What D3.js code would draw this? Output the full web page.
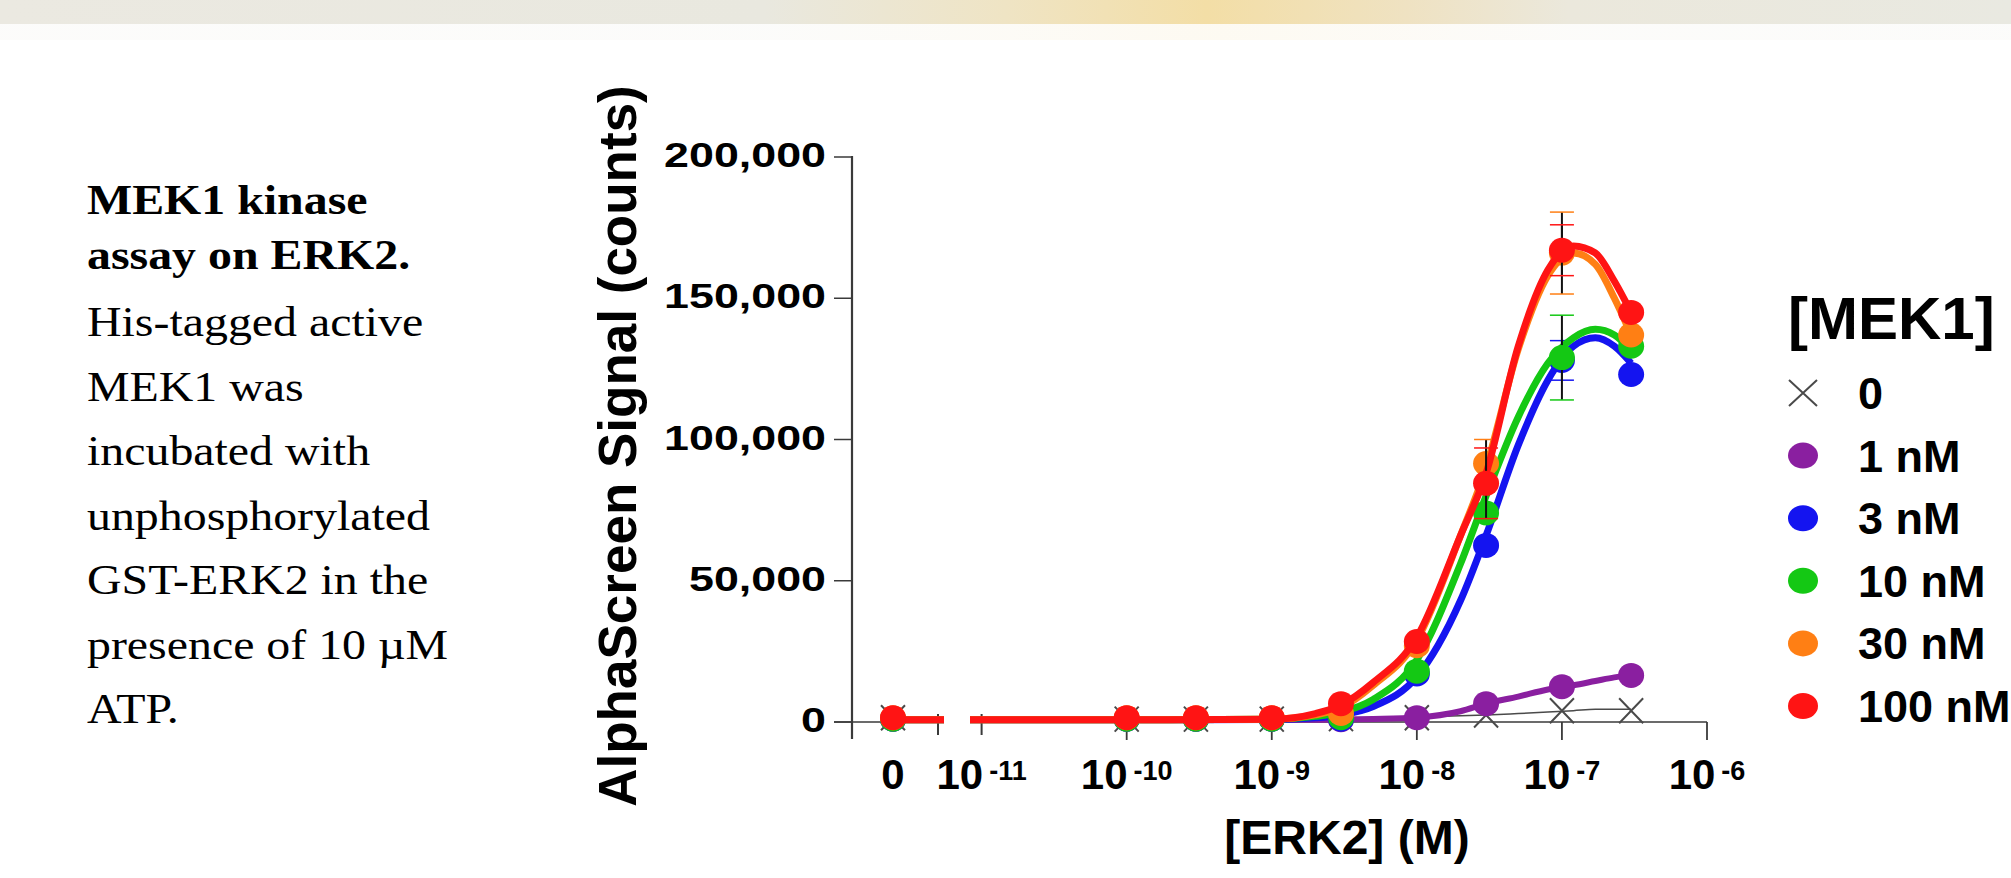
<!DOCTYPE html>
<html>
<head>
<meta charset="utf-8">
<script src="https://cdn.jsdelivr.net/npm/d3@7/dist/d3.min.js"></script>
<style>
  html, body { margin: 0; padding: 0; background: #fff; }
  svg { display: block; }
</style>
</head>
<body>
<svg id="chart" width="2011" height="878"></svg>
<script>
// -------------------------------------------------------------------------
// Data
const concentrations = [0, 1e-10, 3e-10, 1e-9, 3e-9, 1e-8, 3e-8, 1e-7, 3e-7];

const seriesNames = ['0', '1 nM', '3 nM', '10 nM', '30 nM', '100 nM'];
const seriesColors = ['#4a4a4a', '#8a1fa0', '#1414f0', '#14c814', '#ff7f14', '#ff1414'];

// mean signal per concentration
const signalMek0 = [1500, 1000, 1000, 1000, 1200, 1500, 2500, 4000, 4000];
const signalMek1 = [1000, 1000, 1000, 1000, 800, 1500, 6500, 12500, 16500];
const signalMek3 = [1000, 1000, 1000, 1000, 1000, 17000, 62500, 128000, 123000];
const signalMek10 = [1000, 1000, 1000, 1000, 1500, 18000, 74000, 129000, 133000];
const signalMek30 = [1500, 1500, 1500, 1500, 3000, 27000, 91500, 166000, 137000];
const signalMek100 = [1500, 1500, 1500, 1500, 6500, 28500, 84500, 167000, 145000];

// error bars (only the visible ones)
const errorMek3 = [0, 0, 0, 0, 0, 0, 0, 7000, 0];
const errorMek10 = [0, 0, 0, 0, 0, 0, 0, 15000, 0];
const errorMek30 = [0, 0, 0, 0, 0, 0, 8500, 14500, 0];
const errorMek100 = [0, 0, 0, 0, 0, 0, 12500, 9000, 0];

// fitted curves, sampled from the figure
const fitConc = [1e-11, 1e-10, 1e-9, 2e-9, 3e-9, 5e-9, 1e-8, 2e-8, 3e-8, 5e-8, 8e-8, 1.2e-7, 1.7e-7, 2.3e-7, 3e-7];
const fitMek0 = [1500, 1500, 1500, 1500, 1500, 1500, 1800, 2200, 2500, 3000, 3500, 4000, 4500, 4500, 4500];
const fitMek1 = [800, 800, 800, 800, 900, 1100, 1600, 3800, 6500, 9000, 11500, 13000, 14500, 15800, 16500];
const fitMek3 = [800, 800, 900, 1500, 2500, 5500, 16000, 43000, 66000, 98000, 121000, 133000, 136000, 133000, 127000];
const fitMek10 = [800, 800, 1000, 2000, 3500, 8000, 22000, 56000, 80000, 108000, 127000, 136000, 139000, 137000, 131500];
const fitMek30 = [800, 800, 1000, 2500, 5000, 13000, 29000, 66000, 90000, 132000, 158000, 166000, 162000, 150000, 137000];
const fitMek100 = [800, 800, 1000, 3000, 6000, 14000, 30000, 66000, 88000, 133000, 160000, 168500, 166000, 156000, 145000];

const yTicks = [0, 50000, 100000, 150000, 200000];
const xTickExponents = [-11, -10, -9, -8, -7, -6];

const captionBold = ['MEK1 kinase', 'assay on ERK2.'];
const captionLines = ['His-tagged active', 'MEK1 was', 'incubated with', 'unphosphorylated',
  'GST-ERK2 in the', 'presence of 10 \u00b5M', 'ATP.'];

// -------------------------------------------------------------------------
// Layout
const svg = d3.select('#chart');
const sans = '"Liberation Sans", Arial, Helvetica, sans-serif';
const serif = '"Liberation Serif", "Times New Roman", serif';

const axisY0 = 722;
const axisX0 = 852;
const zeroX = 893;          // position of the "0" concentration
const breakEnd = 940;       // end of the first x segment
const logStart = 970;       // start of the log segment

const x = d3.scaleLog().domain([Math.pow(10, -11.08), 1e-6]).range([logStart, 1707]);
const y = d3.scaleLinear().domain([0, 200000]).range([axisY0, 157]);
const xPos = c => (c === 0 ? zeroX : x(c));

const series = [
  { values: signalMek0, errors: null, fit: fitMek0 },
  { values: signalMek1, errors: null, fit: fitMek1 },
  { values: signalMek3, errors: errorMek3, fit: fitMek3 },
  { values: signalMek10, errors: errorMek10, fit: fitMek10 },
  { values: signalMek30, errors: errorMek30, fit: fitMek30 },
  { values: signalMek100, errors: errorMek100, fit: fitMek100 }
].map((s, i) => Object.assign(s, { name: seriesNames[i], color: seriesColors[i] }));

// -------------------------------------------------------------------------
// Header band
const defs = svg.append('defs');
const band = defs.append('linearGradient').attr('id', 'band');
[[0, '#ebe9e1'], [0.38, '#e9e8df'], [0.5, '#efe4c4'], [0.6, '#f3dea6'], [0.7, '#efe2c2'], [0.78, '#ebe8dc'], [1, '#e9e9e1']]
  .forEach(s => band.append('stop').attr('offset', s[0]).attr('stop-color', s[1]));
svg.append('rect').attr('x', 0).attr('y', 0).attr('width', 2011).attr('height', 24).attr('fill', 'url(#band)');
svg.append('rect').attr('x', 0).attr('y', 24).attr('width', 2011).attr('height', 16)
  .attr('fill', 'url(#band)').attr('opacity', 0.15);

// -------------------------------------------------------------------------
// Caption
const caption = svg.append('g').attr('transform', 'translate(87,0)');
captionBold.forEach((t, i) => {
  caption.append('text')
    .attr('transform', `translate(0,${214 + i * 55}) scale(1.14,1)`)
    .style('font-family', serif).style('font-size', '42px').style('font-weight', 'bold')
    .text(t);
});
captionLines.forEach((t, i) => {
  caption.append('text')
    .attr('transform', `translate(0,${336 + i * 64.5}) scale(1.14,1)`)
    .style('font-family', serif).style('font-size', '42px')
    .text(t);
});

// -------------------------------------------------------------------------
// Axes
const axes = svg.append('g').attr('stroke', '#3a3a3a').attr('fill', 'none');
axes.append('line').attr('x1', axisX0).attr('x2', axisX0).attr('y1', y(200000) - 1).attr('y2', axisY0 + 17).attr('stroke-width', 2.2);
axes.selectAll('.ytick').data(yTicks).enter().append('line')
  .attr('x1', axisX0 - 18).attr('x2', axisX0).attr('y1', d => y(d)).attr('y2', d => y(d)).attr('stroke-width', 1.5);
axes.append('line').attr('x1', axisX0 - 18).attr('x2', breakEnd).attr('y1', axisY0).attr('y2', axisY0).attr('stroke-width', 1.5);
axes.append('line').attr('x1', logStart).attr('x2', x(1e-6)).attr('y1', axisY0).attr('y2', axisY0).attr('stroke-width', 1.5);
// break marks
[breakEnd - 2, x(1e-11)].forEach(bx => {
  axes.append('line').attr('x1', bx).attr('x2', bx).attr('y1', axisY0 - 8).attr('y2', axisY0 + 13).attr('stroke-width', 2);
});
axes.selectAll('.xtick').data(xTickExponents.slice(1)).enter().append('line')
  .attr('x1', d => x(Math.pow(10, d))).attr('x2', d => x(Math.pow(10, d)))
  .attr('y1', axisY0).attr('y2', axisY0 + 18).attr('stroke-width', 1.8);

// y tick labels
svg.selectAll('.ylabel').data(yTicks).enter().append('text')
  .attr('transform', d => `translate(826,${y(d) + 10}) scale(1.28,1)`)
  .attr('text-anchor', 'end')
  .style('font-family', sans).style('font-size', '35px').style('font-weight', 'bold')
  .text(d3.format(','));

// x tick labels
svg.append('text')
  .attr('x', zeroX).attr('y', 789)
  .attr('text-anchor', 'middle')
  .style('font-family', sans).style('font-size', '42px').style('font-weight', 'bold')
  .text('0');
xTickExponents.forEach(e => {
  const t = svg.append('text')
    .attr('x', x(Math.pow(10, e))).attr('y', 789)
    .attr('text-anchor', 'middle')
    .style('font-family', sans).style('font-weight', 'bold');
  t.append('tspan').style('font-size', '42px').text('10');
  t.append('tspan').style('font-size', '27px').attr('dx', 6).attr('dy', -9).text(e);
});

// axis titles
svg.append('text')
  .attr('x', 1347).attr('y', 854)
  .attr('text-anchor', 'middle')
  .style('font-family', sans).style('font-size', '48px').style('font-weight', 'bold')
  .text('[ERK2] (M)');
svg.append('text')
  .attr('transform', 'translate(636,446) rotate(-90)')
  .attr('text-anchor', 'middle')
  .style('font-family', sans).style('font-size', '53px').style('font-weight', 'bold')
  .text('AlphaScreen Signal (counts)');

// -------------------------------------------------------------------------
// Series
const fitLine = d3.line().x(d => x(d[0])).y(d => y(d[1])).curve(d3.curveMonotoneX);
const plot = svg.append('g');

function drawMarker(g, cx, cy, s, rx, ry) {
  if (s.name === '0') {
    g.append('path')
      .attr('d', `M${cx - rx},${cy - ry}L${cx + rx},${cy + ry}M${cx - rx},${cy + ry}L${cx + rx},${cy - ry}`)
      .attr('stroke', s.color).attr('stroke-width', 2).attr('fill', 'none');
  } else {
    g.append('ellipse').attr('cx', cx).attr('cy', cy).attr('rx', rx + 1).attr('ry', ry)
      .attr('fill', s.color);
  }
}

series.forEach(s => {
  const g = plot.append('g');
  const thin = s.name === '0';
  const width = thin ? 1.5 : (s.name === '1 nM' ? 6 : 7);
  // fit in the log segment
  g.append('path')
    .datum(fitConc.map((c, i) => [c, s.fit[i]]))
    .attr('d', d => {
      const p = fitLine(d);
      return `M${logStart},${y(d[0][1])}L${p.slice(1)}`;
    })
    .attr('fill', 'none').attr('stroke', s.color).attr('stroke-width', width)
    .attr('stroke-linejoin', 'round');
  // fit in the zero segment
  if (!thin) {
    g.append('line').attr('x1', zeroX).attr('x2', breakEnd + 4)
      .attr('y1', y(s.fit[0])).attr('y2', y(s.fit[0]))
      .attr('stroke', s.color).attr('stroke-width', width);
  }
  // error bars
  if (s.errors) {
    s.values.forEach((v, i) => {
      const e = s.errors[i];
      if (!e) return;
      const cx = xPos(concentrations[i]);
      g.append('line').attr('x1', cx).attr('x2', cx).attr('y1', y(v - e)).attr('y2', y(v + e))
        .attr('stroke', '#111').attr('stroke-width', 2);
      [v - e, v + e].forEach(b => {
        g.append('line').attr('x1', cx - 12).attr('x2', cx + 12).attr('y1', y(b)).attr('y2', y(b))
          .attr('stroke', s.color).attr('stroke-width', 1.5);
      });
    });
  }
  s.values.forEach((v, i) => drawMarker(g, xPos(concentrations[i]), y(v), s, 12, 12.5));
});

// -------------------------------------------------------------------------
// Legend
const legend = svg.append('g');
legend.append('text')
  .attr('x', 1788).attr('y', 339)
  .style('font-family', sans).style('font-size', '60px').style('font-weight', 'bold')
  .text('[MEK1]');
series.forEach((s, i) => {
  const ly = 393 + i * 62.6;
  drawMarker(legend, 1803, ly, s, 14, 13);
  legend.append('text')
    .attr('x', 1858).attr('y', ly + 16)
    .style('font-family', sans).style('font-size', '45px').style('font-weight', 'bold')
    .text(s.name);
});
</script>
</body>
</html>
